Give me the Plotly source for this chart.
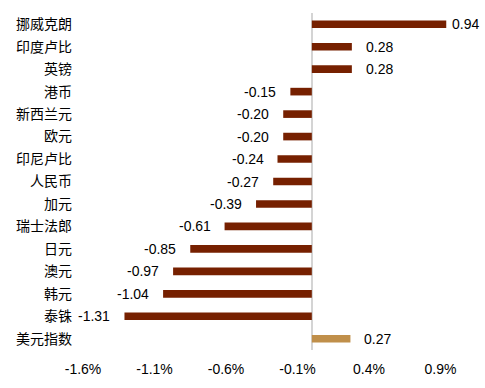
import plotly.graph_objects as go

categories = ["挪威克朗", "印度卢比", "英镑", "港币", "新西兰元", "欧元", "印尼卢比",
              "人民币", "加元", "瑞士法郎", "日元", "澳元", "韩元", "泰铢", "美元指数"]
values = [0.94, 0.28, 0.28, -0.15, -0.20, -0.20, -0.24, -0.27, -0.39, -0.61,
          -0.85, -0.97, -1.04, -1.31, 0.27]
tick_vals = [-1.6, -1.1, -0.6, -0.1, 0.4, 0.9]
tick_text = ["-1.6%", "-1.1%", "-0.6%", "-0.1%", "0.4%", "0.9%"]

DARK = "#762000"
TAN = "#C08F4A"
colors = [TAN if c == "美元指数" else DARK for c in categories]

FONT = "Liberation Sans, Arial, Noto Sans CJK SC, sans-serif"

fig = go.Figure()
fig.add_trace(go.Bar(
    x=values, y=categories, orientation="h",
    marker=dict(color=colors, line=dict(width=0)),
    width=0.34, hoverinfo="skip",
))

annotations = []
for c, v in zip(categories, values):
    shift = 4 if v > 0.8 else 12
    annotations.append(dict(
        x=v, y=c, xref="x", yref="y",
        text=f"{v:.2f}", showarrow=False,
        xanchor="left" if v >= 0 else "right",
        xshift=shift if v >= 0 else -shift,
        font=dict(family=FONT, size=14, color="#000000"),
    ))

fig.update_layout(
    width=485, height=388,
    margin=dict(l=83, r=5, t=13, b=38),
    paper_bgcolor="white", plot_bgcolor="white",
    showlegend=False,
    annotations=annotations,
    font=dict(family=FONT, size=14, color="#000000"),
)
fig.update_xaxes(
    range=[-1.6, 1.176], automargin=False,
    tickvals=tick_vals, ticktext=tick_text,
    showgrid=False, showline=False,
    zeroline=True, zerolinecolor="#D4D4D4", zerolinewidth=2,
    ticks="", ticklabelstandoff=9,
    tickfont=dict(family=FONT, size=14, color="#000000"),
)
fig.update_yaxes(
    categoryorder="array", categoryarray=categories,
    autorange="reversed", automargin=False,
    showgrid=False, showline=False, zeroline=False,
    ticks="", ticklabelstandoff=10,
    tickfont=dict(family=FONT, size=14, color="#000000"),
)

fig.write_html("out.html", post_script="document.body.style.margin='0';",
               config={"displayModeBar": False})
